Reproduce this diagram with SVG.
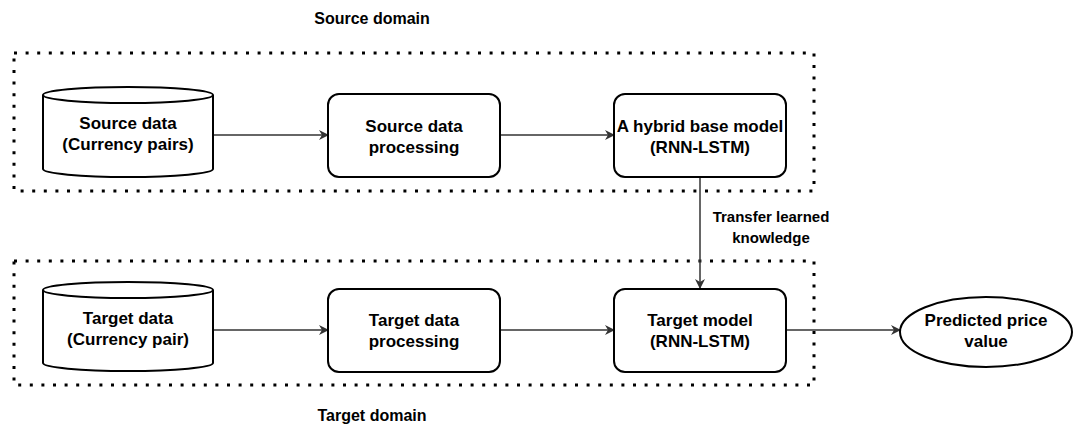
<svg xmlns="http://www.w3.org/2000/svg" width="1074" height="432" viewBox="0 0 1074 432">
<style>
.dom{fill:none;stroke:#000;stroke-width:3;stroke-dasharray:3 8.6}
.box{fill:#fff;stroke:#000;stroke-width:2}
.t{font-family:"Liberation Sans",Arial,sans-serif;font-weight:bold;font-size:17px;fill:#000;text-anchor:middle}
.l{font-family:"Liberation Sans",Arial,sans-serif;font-weight:bold;font-size:15px;fill:#000;text-anchor:middle}
.h{font-family:"Liberation Sans",Arial,sans-serif;font-weight:bold;font-size:16px;fill:#000;text-anchor:middle}
.c{fill:none;stroke:#333;stroke-width:1.5}
</style>
<defs>
<marker id="a" viewBox="0 0 10 10" refX="9" refY="5" markerWidth="10" markerHeight="10" markerUnits="userSpaceOnUse" orient="auto">
<path d="M0,0 L10,5 L0,10 L3,5 Z" fill="#333"/>
</marker>
</defs>
<rect fill="#fff" width="1074" height="432"/>
<g id="source-domain">
<rect class="dom" x="14" y="53" width="800" height="138"/>
<text class="h" x="372" y="24">Source domain</text>
</g>
<g id="target-domain">
<rect class="dom" x="14" y="261" width="800" height="124"/>
<text class="h" x="372" y="421">Target domain</text>
</g>
<g id="connectors">
<line class="c" x1="214" y1="135" x2="328" y2="135" marker-end="url(#a)"/>
<line class="c" x1="500" y1="135" x2="614" y2="135" marker-end="url(#a)"/>
<line class="c" x1="700" y1="177" x2="700" y2="288" marker-end="url(#a)"/>
<line class="c" x1="214" y1="330" x2="328" y2="330" marker-end="url(#a)"/>
<line class="c" x1="500" y1="330" x2="614" y2="330" marker-end="url(#a)"/>
<line class="c" x1="786" y1="330" x2="900" y2="330" marker-end="url(#a)"/>
<text class="l" x="771" y="222">Transfer learned</text>
<text class="l" x="771" y="243">knowledge</text>
</g>
<g id="source-data">
<path class="box" d="M43,95 A85,8 0 0 1 213,95 L213,169 A85,8 0 0 1 43,169 Z"/>
<path class="box" fill="none" d="M43,95 A85,8 0 0 0 213,95"/>
<text class="t" x="128" y="129">Source data</text>
<text class="t" x="128" y="150">(Currency pairs)</text>
</g>
<g id="source-processing">
<rect class="box" x="328" y="94" width="172" height="83" rx="11"/>
<text class="t" x="414" y="132">Source data</text>
<text class="t" x="414" y="153">processing</text>
</g>
<g id="hybrid-model">
<rect class="box" x="614" y="94" width="172" height="83" rx="11"/>
<text class="t" x="700" y="132">A hybrid base model</text>
<text class="t" x="700" y="153">(RNN-LSTM)</text>
</g>
<g id="target-data">
<path class="box" d="M43,290 A85,8 0 0 1 213,290 L213,363 A85,8 0 0 1 43,363 Z"/>
<path class="box" fill="none" d="M43,290 A85,8 0 0 0 213,290"/>
<text class="t" x="128" y="324">Target data</text>
<text class="t" x="128" y="345">(Currency pair)</text>
</g>
<g id="target-processing">
<rect class="box" x="328" y="289" width="172" height="83" rx="11"/>
<text class="t" x="414" y="326">Target data</text>
<text class="t" x="414" y="347">processing</text>
</g>
<g id="target-model">
<rect class="box" x="614" y="289" width="172" height="83" rx="11"/>
<text class="t" x="700" y="326">Target model</text>
<text class="t" x="700" y="347">(RNN-LSTM)</text>
</g>
<g id="predicted">
<ellipse class="box" cx="986" cy="332" rx="86" ry="35"/>
<text class="t" x="986" y="326">Predicted price</text>
<text class="t" x="986" y="347">value</text>
</g>
</svg>
